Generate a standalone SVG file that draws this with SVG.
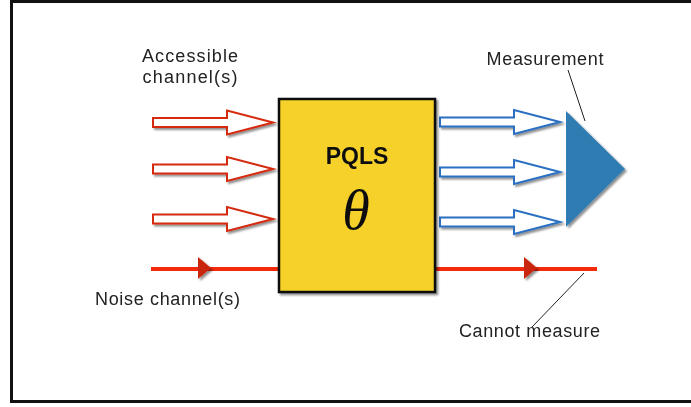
<svg xmlns="http://www.w3.org/2000/svg" width="691" height="407" viewBox="0 0 691 407">
  <defs>
    <filter id="shadow" x="-20%" y="-20%" width="150%" height="150%">
      <feGaussianBlur in="SourceAlpha" stdDeviation="1.2"/>
      <feOffset dx="2" dy="2" result="b"/>
      <feComponentTransfer><feFuncA type="linear" slope="0.45"/></feComponentTransfer>
      <feMerge><feMergeNode/><feMergeNode in="SourceGraphic"/></feMerge>
    </filter>
    <!-- hollow block arrow, pointing right, centred on y=0 -->
    <path id="block" d="M0,-4.5 H74 V-12 L120,0 L74,12 V4.5 H0 Z"/>
    <path id="tick" d="M0,-11 L13,0 L0,11 Z"/>
  </defs>
  <style>
    .lbl { font-family: "Liberation Sans", Arial, sans-serif; font-size: 18px; fill: #222; }
    .in { fill: #fff; stroke: #d52b10; stroke-width: 2; }
    .out { fill: #fff; stroke: #2a6fc2; stroke-width: 2; }
    .noise { stroke: #f42a0c; stroke-width: 4; fill: none; }
    .tick { fill: #c9260c; }
    .lead { stroke: #222; stroke-width: 1; fill: none; }
  </style>

  <rect width="691" height="407" fill="#fff"/>
  <!-- outer frame -->
  <rect x="11.5" y="1.5" width="690" height="400" fill="none" stroke="#111" stroke-width="3"/>

  <g id="connectors">
    <g filter="url(#shadow)">
      <use href="#block" class="in" x="153" y="122.5"/>
      <use href="#block" class="in" x="153" y="169"/>
      <use href="#block" class="in" x="153" y="219"/>
      <use href="#block" class="out" x="440" y="122"/>
      <use href="#block" class="out" x="440" y="172"/>
      <use href="#block" class="out" x="440" y="222"/>
    </g>
    <line class="noise" x1="151" y1="269" x2="280" y2="269"/>
    <line class="noise" x1="434" y1="269" x2="597" y2="269"/>
    <g filter="url(#shadow)">
      <use href="#tick" class="tick" x="198" y="268"/>
      <use href="#tick" class="tick" x="524" y="268"/>
    </g>
    <line class="lead" x1="568" y1="70" x2="585" y2="121"/>
    <line class="lead" x1="584" y1="273" x2="532" y2="327"/>
  </g>

  <g id="pqls" filter="url(#shadow)">
    <rect x="279" y="99" width="156" height="193" fill="#f5d12b" stroke="#111" stroke-width="2.5"/>
    <text x="357" y="164" text-anchor="middle" font-family="Liberation Sans, Arial, sans-serif" font-weight="bold" font-size="23" fill="#111">PQLS</text>
    <text x="356" y="229" text-anchor="middle" font-family="Liberation Serif, Times New Roman, serif" font-style="italic" font-size="56" fill="#111">θ</text>
  </g>

  <g id="measurement" filter="url(#shadow)">
    <path d="M566,111 L625,169 L566,227 Z" fill="#2e7cb2"/>
  </g>

  <g id="labels">
    <text class="lbl" x="190" y="62" text-anchor="middle" textLength="96">Accessible</text>
    <text class="lbl" x="190" y="83" text-anchor="middle" textLength="95">channel(s)</text>
    <text class="lbl" x="545" y="65" text-anchor="middle" textLength="117">Measurement</text>
    <text class="lbl" x="95" y="305" textLength="145">Noise channel(s)</text>
    <text class="lbl" x="459" y="337" textLength="141">Cannot measure</text>
  </g>
</svg>
